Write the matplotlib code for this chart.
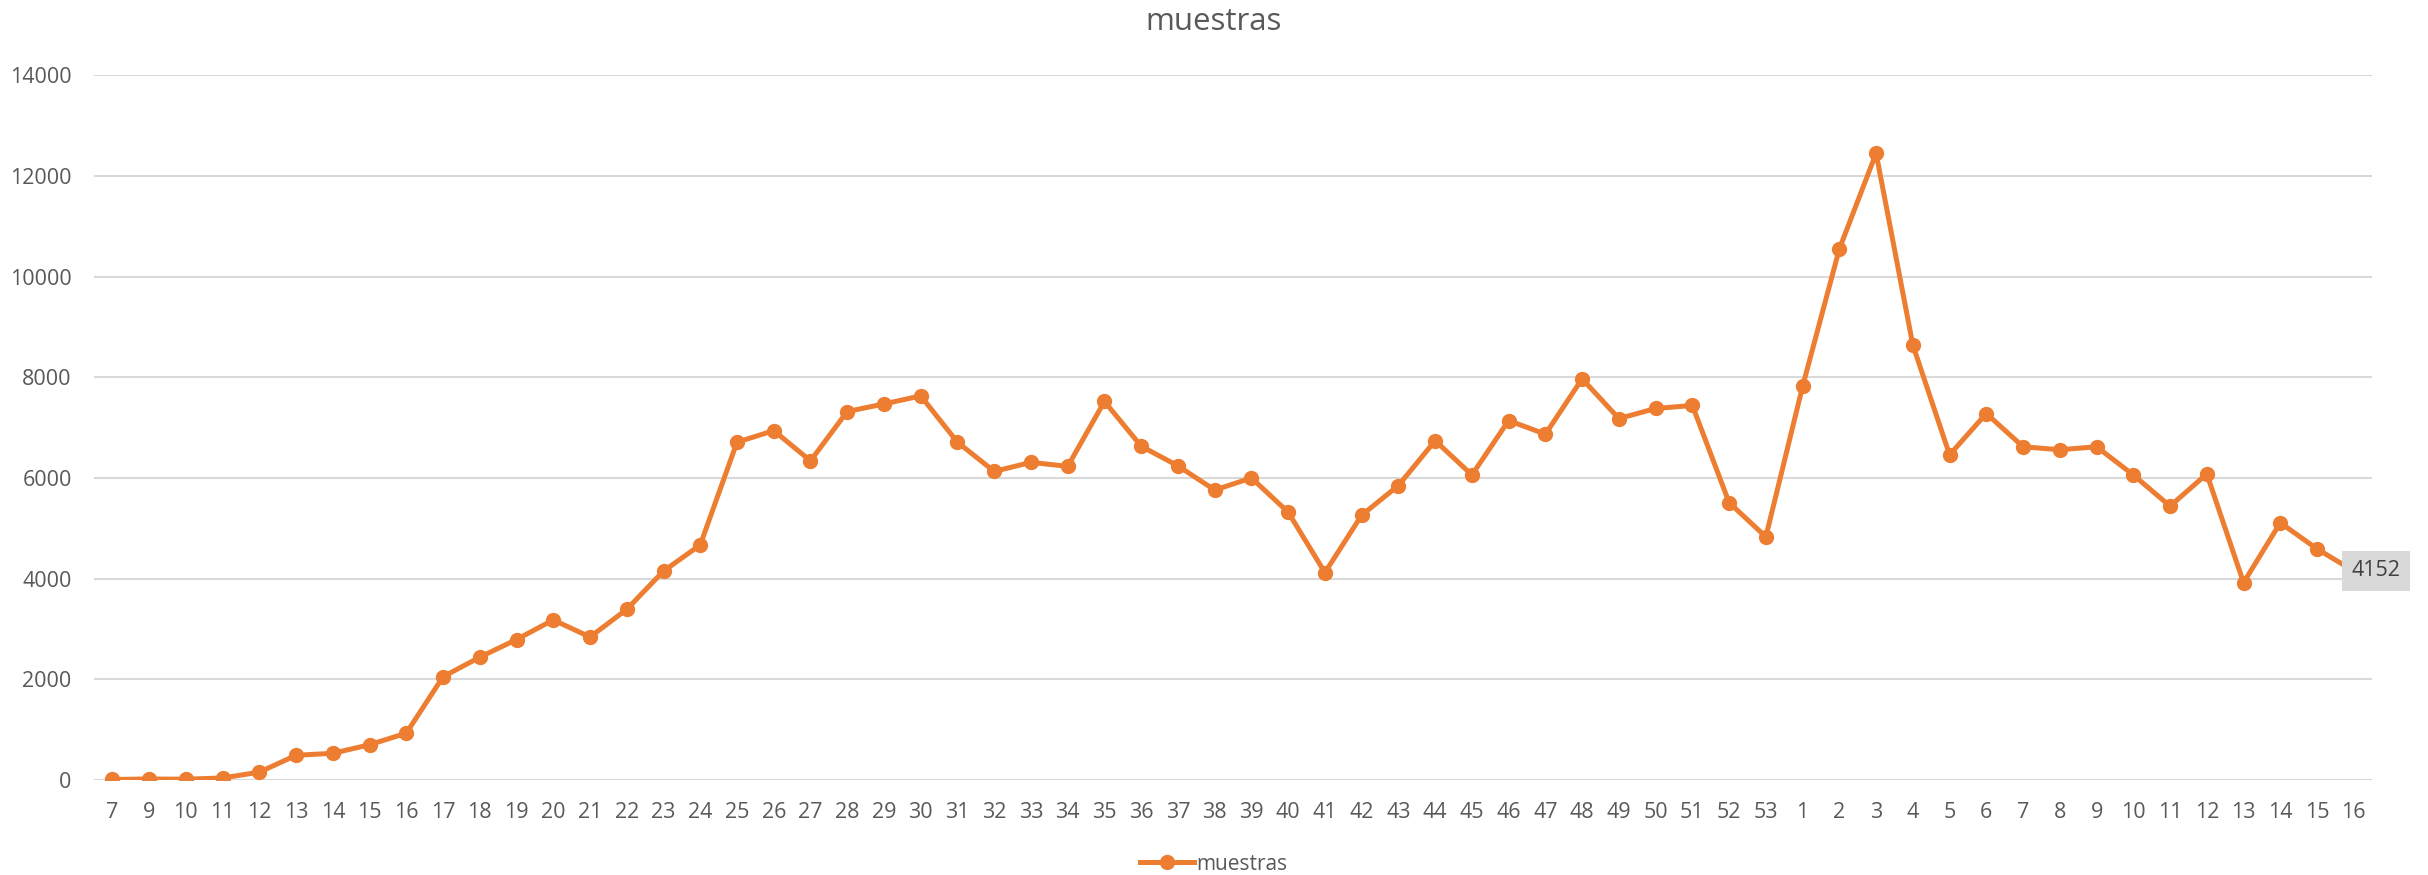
import matplotlib.pyplot as plt

plt.rcParams['font.family'] = ['Open Sans', 'DejaVu Sans']

semanas = ['7', '9', '10', '11', '12', '13', '14', '15', '16', '17', '18', '19', '20',
           '21', '22', '23', '24', '25', '26', '27', '28', '29', '30', '31', '32', '33',
           '34', '35', '36', '37', '38', '39', '40', '41', '42', '43', '44', '45', '46',
           '47', '48', '49', '50', '51', '52', '53',
           '1', '2', '3', '4', '5', '6', '7', '8', '9', '10', '11', '12', '13', '14',
           '15', '16']
muestras = [10, 20, 15, 40, 155, 490, 530, 700, 930, 2050, 2440, 2790, 3180,
            2840, 3390, 4150, 4670, 6710, 6940, 6340, 7320, 7470, 7630, 6710, 6130, 6310,
            6230, 7520, 6630, 6240, 5760, 6000, 5320, 4120, 5260, 5850, 6740, 6060, 7140,
            6870, 7970, 7180, 7380, 7440, 5510, 4830,
            7820, 10550, 12450, 8640, 6460, 7280, 6620, 6560, 6620, 6060, 5440, 6080, 3920, 5110,
            4590, 4152]
yticks = [0, 2000, 4000, 6000, 8000, 10000, 12000, 14000]

naranja = '#ED7D31'
gris = '#595959'

fig = plt.figure(figsize=(24.28, 8.75), dpi=100)
ax = fig.add_axes([0.0387, 0.1086, 0.9383, 0.8054])

x = list(range(len(muestras)))
ax.plot(x, muestras, color=naranja, lw=3.6, marker='o', ms=10, label='muestras',
        solid_joinstyle='round', zorder=3)

ax.set_xlim(-0.5, len(muestras) - 0.5)
ax.set_ylim(0, 14000)
ax.set_yticks(yticks)
ax.set_yticklabels([str(v) for v in yticks])
ax.set_xticks(x)
ax.set_xticklabels(semanas)
ax.tick_params(length=0, labelsize=15.5, colors=gris)
ax.tick_params(axis='x', pad=16)
ax.tick_params(axis='y', pad=16)
ax.grid(axis='y', color='#d9d9d9', lw=1.5)
ax.set_axisbelow(True)
for s in ax.spines.values():
    s.set_visible(False)

# etiqueta del ultimo valor
ax.annotate(str(muestras[-1]), (x[-1], muestras[-1]), xytext=(16, 0),
            textcoords='offset points', va='center', ha='center', fontsize=15.5,
            color='#404040', zorder=4,
            bbox=dict(boxstyle='square,pad=0.45', fc='#d9d9d9', ec='none'))

fig.text(0.5, 0.975, 'muestras', ha='center', va='center', fontsize=22.5, color=gris)
fig.legend(loc='center', bbox_to_anchor=(0.5, 1 - 864 / 875), frameon=False,
           fontsize=15, labelcolor=gris, handlelength=2.6, handletextpad=0.1)

fig.savefig('out.png', dpi=100)
